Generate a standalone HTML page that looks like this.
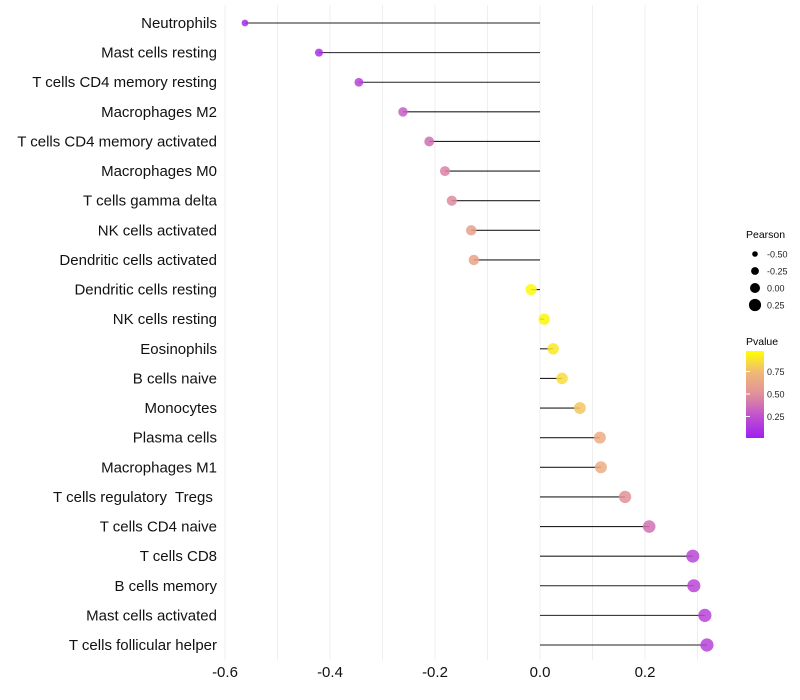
<!DOCTYPE html>
<html><head><meta charset="utf-8"><style>
body{margin:0;background:#fff;}
svg{display:block;font-family:"Liberation Sans",sans-serif;}
#ylab text{white-space:pre;}
</style></head><body>
<svg id="chart" width="800" height="700" viewBox="0 0 800 700">
<g id="grid"></g>
<g id="marks"></g>
<g id="ylab"></g>
<g id="xlab"></g>
<g id="legend">
<text x="746" y="238" font-size="10.5">Pearson</text>
<text x="746" y="345" font-size="10.5">Pvalue</text>
<defs><linearGradient id="pg" x1="0" y1="1" x2="0" y2="0">
<stop offset="0" stop-color="#a020f0"/><stop offset="0.25" stop-color="#c050d0"/><stop offset="0.5" stop-color="#e0909a"/><stop offset="0.75" stop-color="#f0b878"/><stop offset="1" stop-color="#ffff00"/></linearGradient></defs>
<rect x="746" y="351" width="18" height="87" fill="url(#pg)"/>
</g>
</svg>
<script>
const categories=["Neutrophils","Mast cells resting","T cells CD4 memory resting","Macrophages M2","T cells CD4 memory activated","Macrophages M0","T cells gamma delta","NK cells activated","Dendritic cells activated","Dendritic cells resting","NK cells resting","Eosinophils","B cells naive","Monocytes","Plasma cells","Macrophages M1","T cells regulatory  Tregs ","T cells CD4 naive","T cells CD8","B cells memory","Mast cells activated","T cells follicular helper"];
const pearson=[-0.562,-0.421,-0.345,-0.261,-0.211,-0.181,-0.168,-0.131,-0.126,-0.017,0.008,0.025,0.042,0.076,0.114,0.116,0.162,0.208,0.291,0.293,0.314,0.318];
const pvalues=[0.05,0.08,0.17,0.3,0.37,0.45,0.48,0.6,0.62,0.98,0.97,0.92,0.88,0.8,0.68,0.68,0.52,0.38,0.2,0.2,0.18,0.18];
const xTicks=[-0.6,-0.4,-0.2,0.0,0.2];
const xTickLabels=["-0.6","-0.4","-0.2","0.0","0.2"];
const sizeLegend=[-0.5,-0.25,0.0,0.25];
const sizeLegendLabels=["-0.50","-0.25","0.00","0.25"];
const pLegend=[0.25,0.5,0.75];
const pLegendLabels=["0.25","0.50","0.75"];

const NS="http://www.w3.org/2000/svg";
const xs=v=>540+525*v;
const ys=i=>23+i*(622/21);
const rs=v=>Math.sqrt(Math.max(2.5,32+37*v));
const stops=[[0,[160,32,240]],[0.25,[192,80,208]],[0.5,[224,144,154]],[0.75,[240,184,120]],[1,[255,255,0]]];
function col(p){for(let k=0;k<stops.length-1;k++){const[a,ca]=stops[k],[b,cb]=stops[k+1];if(p<=b){const t=(p-a)/(b-a);return`rgb(${ca.map((c,j)=>Math.round(c+(cb[j]-c)*t)).join(',')})`;}}return'rgb(255,255,0)';}
function mk(tag,at,par){const e=document.createElementNS(NS,tag);for(const k in at)e.setAttribute(k,at[k]);document.getElementById(par).appendChild(e);return e;}
for(let v=-0.6;v<=0.31;v+=0.1){const g=mk('line',{x1:xs(v),x2:xs(v),y1:5,y2:660,stroke:'#efefef','stroke-width':1},'grid');

}
categories.forEach((c,i)=>{const y=ys(i);
const l=mk('line',{x1:xs(0),x2:xs(pearson[i]),y1:y,y2:y,stroke:'#222','stroke-width':1.1},'marks');


const p=mk('circle',{cx:xs(pearson[i]),cy:y,r:rs(pearson[i]),fill:col(pvalues[i]),'fill-opacity':0.85},'marks');


const t=mk('text',{x:217,y:y+5,'text-anchor':'end','font-size':15,fill:'#111'},'ylab');t.textContent=c;

});
xTicks.forEach((v,i)=>{const t=mk('text',{x:xs(v),y:677,'text-anchor':'middle','font-size':15,fill:'#111'},'xlab');t.textContent=xTickLabels[i];

});
sizeLegend.forEach((v,i)=>{const y=254+i*17;
const c=mk('circle',{cx:755,cy:y,r:2.8+i*1.1,fill:'#000'},'legend');


const t=mk('text',{x:767,y:y+3.5,'font-size':9,fill:'#222'},'legend');t.textContent=sizeLegendLabels[i];

});
pLegend.forEach((v,i)=>{const y=439-v*90;
const k=mk('line',{x1:746,x2:750,y1:y,y2:y,stroke:'#fff','stroke-width':1},'legend');


const t=mk('text',{x:767,y:y+3.5,'font-size':9,fill:'#222'},'legend');t.textContent=pLegendLabels[i];

});
</script>
</body></html>
